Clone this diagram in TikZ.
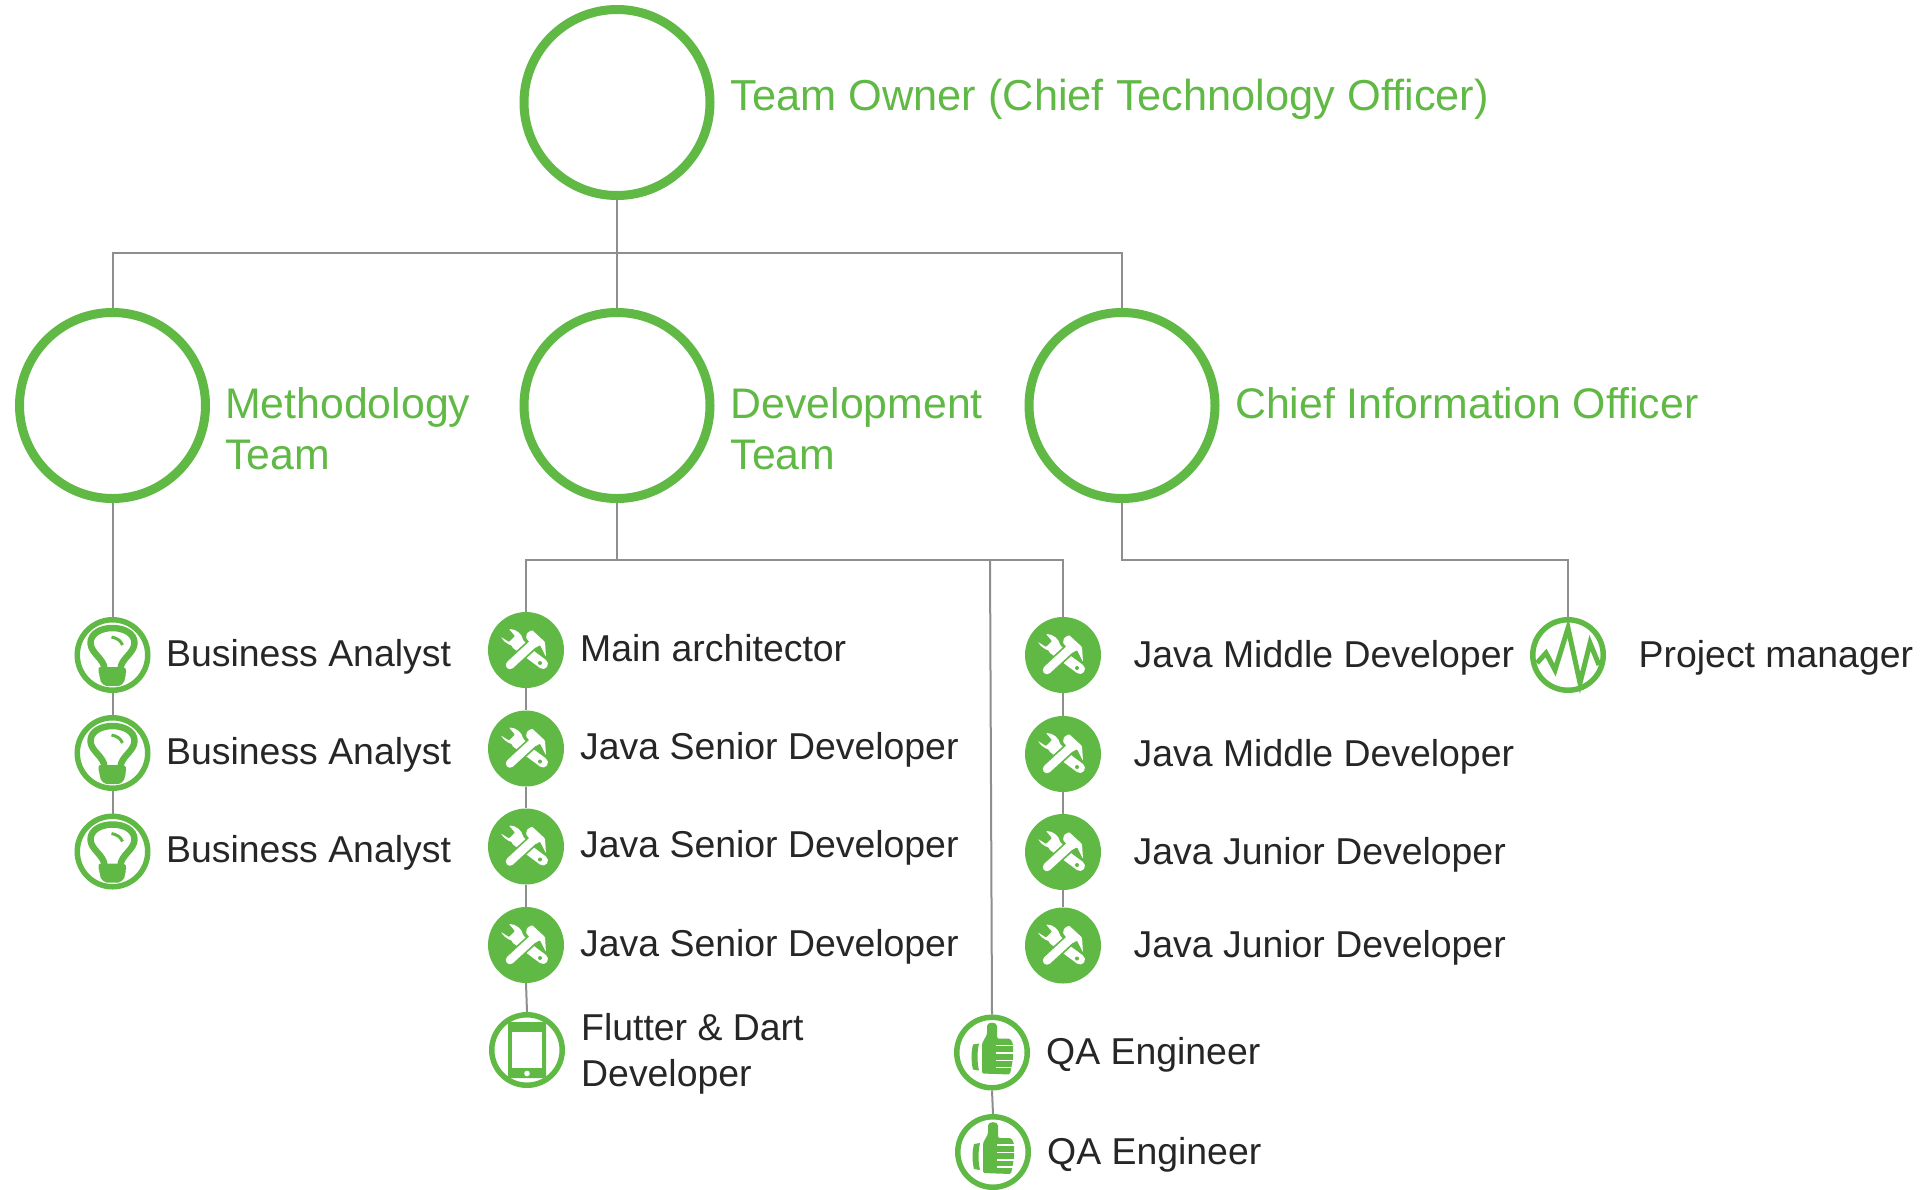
\documentclass[tikz,border=0pt]{standalone}
\usepackage{fontspec}
\setmainfont{Liberation Sans}
\definecolor{grn}{HTML}{60B945}
\definecolor{ink}{HTML}{262626}
\definecolor{wire}{HTML}{8E8E8E}
\tikzset{
  bigring/.style={circle,draw=grn,line width=9pt,minimum size=186pt,inner sep=0pt},
  ring/.style={circle,draw=grn,line width=5.5pt,minimum size=70.5pt,inner sep=0pt},
  disk/.style={circle,fill=grn,minimum size=76pt,inner sep=0pt},
  wiring/.style={draw=wire,line width=2pt},
  head/.style={text=grn,font=\fontsize{42.8}{51}\selectfont,anchor=base west,inner sep=0pt,align=left},
  lbl/.style={text=ink,font=\fontsize{37.4}{46}\selectfont,anchor=base west,inner sep=0pt,align=left},
  bulbicon/.pic={
    \draw[grn,line width=6.5pt,line join=round] (-8,14) .. controls (-8,4) and (-22,-2) .. (-22,-12)
      .. controls (-22,-22) and (-11,-27) .. (0,-27)
      .. controls (11,-27) and (22,-22) .. (22,-12)
      .. controls (22,-2) and (8,4) .. (8,14);
    \fill[grn,rounded corners=2pt] (-14,12) -- (13,12) -- (14,19) -- (12,21) -- (13,25) -- (8,31) -- (-8,31) -- (-13,25) -- (-12,21) -- (-14,19) -- cycle;
    \draw[grn,line width=3pt] (-1,-18) .. controls (4,-17) and (8,-15) .. (10,-10);
  },
  toolicon/.pic={
    \draw[white,line width=10pt,line cap=round] (-10,-6) -- (17,14);
    \fill[white,rounded corners=0.8pt] (-25,-13) .. controls (-21,-6) and (-14,-4) .. (-8,-3) -- (-2,2) -- (3,-4) -- (-3,-10)
      .. controls (-4,-16) and (-10,-21) .. (-17,-21) -- (-11,-14) -- (-17,-8) -- cycle;
    \draw[grn,line width=12pt] (-14,13) -- (7,-6);
    \draw[white,line width=8.5pt,line cap=round] (-16,15) -- (9,-8);
    \fill[white,rounded corners=1pt] (1,-17) -- (6,-20) -- (19,-8) -- (20,7) -- (14,-5) -- (9,-2) -- (0,-12) -- cycle;
    \fill[grn] (14,13) circle (2);
  },
  phoneicon/.pic={
    \fill[grn,rounded corners=2pt] (-19,-28) rectangle (19,28);
    \fill[white] (-15,-18) rectangle (15,18);
    \fill[white] (0,23.5) circle (2.8);
  },
  thumbicon/.pic={
    \fill[grn,rounded corners=1.5pt] (-10,21) -- (-10,-9) -- (-5,-18) -- (-5,-25)
      .. controls (-5,-31) and (5,-31) .. (5,-25) -- (5,-14) -- (18,-14) -- (21,-9) -- (21,6) -- (18,22) -- cycle;
    \fill[grn] (-13,-9) -- (-19,-8) .. controls (-21,0) and (-21,9) .. (-19,17) -- (-13,18) .. controls (-15,9) and (-15,0) .. (-13,-9) -- cycle;
    \foreach \yy in {-7,0.5,8,15}{\fill[white] (4,\yy-0.8) rectangle (23,\yy+0.8);}
  },
  pulseicon/.pic={
    \draw[grn,line width=5pt,miter limit=10] (-31,8) -- (-22,-2) -- (-13,15) -- (0,-27) -- (12,28) -- (22,-12) -- (31,10);
  }
}
\begin{document}
\begin{tikzpicture}[x=1pt,y=-1pt]
\useasboundingbox (0,0) rectangle (1932,1189);
% main circles
\node[bigring] (own) at (617,102.5) {};
\node[bigring] (mt) at (112.5,405.5) {};
\node[bigring] (dev) at (617,405.5) {};
\node[bigring] (cio) at (1122,405.5) {};
% business analysts
\node[ring] (ba1) at (112.5,655) {}; \pic at (ba1) {bulbicon};
\node[ring] (ba2) at (112.5,753) {}; \pic at (ba2) {bulbicon};
\node[ring] (ba3) at (112.5,851.5) {}; \pic at (ba3) {bulbicon};
% development left
\node[disk] (arch) at (526,650) {}; \pic at (arch) {toolicon};
\node[disk] (js1) at (526,748.5) {}; \pic at (js1) {toolicon};
\node[disk] (js2) at (526,846.5) {}; \pic at (js2) {toolicon};
\node[disk] (js3) at (526,945) {}; \pic at (js3) {toolicon};
\node[ring] (fl) at (527,1050) {}; \pic at (fl) {phoneicon};
% development right
\node[disk] (jm1) at (1063,655) {}; \pic at (jm1) {toolicon};
\node[disk] (jm2) at (1063,754) {}; \pic at (jm2) {toolicon};
\node[disk] (jj1) at (1063,852) {}; \pic at (jj1) {toolicon};
\node[disk] (jj2) at (1063,945.5) {}; \pic at (jj2) {toolicon};
% QA
\node[ring] (qa1) at (992,1052.5) {}; \pic at (qa1) {thumbicon};
\node[ring] (qa2) at (993,1152) {}; \pic at (qa2) {thumbicon};
% PM
\node[ring] (pm) at (1568,655) {}; \pic at (pm) {pulseicon};
% junctions
\coordinate (j1) at (617,253);
\coordinate (j2) at (617,560);
\coordinate (j3) at (990,560);
\coordinate (j4) at (1122,560);
% connectors
\draw[wiring] (own.south) -- (dev.north);
\draw[wiring] (mt.north) |- (j1) -| (cio.north);
\draw[wiring] (mt.south) -- (ba1.north);
\draw[wiring] (ba1.south) -- (ba2.north);
\draw[wiring] (ba2.south) -- (ba3.north);
\draw[wiring] (dev.south) -- (j2);
\draw[wiring] (arch.north) |- (j2) -| (jm1.north);
\draw[wiring] (j3) -- (qa1.north);
\draw[wiring] (arch.south) -- (js1.north);
\draw[wiring] (js1.south) -- (js2.north);
\draw[wiring] (js2.south) -- (js3.north);
\draw[wiring] (js3.south) -- (fl.north);
\draw[wiring] (jm1.south) -- (jm2.north);
\draw[wiring] (jm2.south) -- (jj1.north);
\draw[wiring] (jj1.south) -- (jj2.north);
\draw[wiring] (qa1.south) -- (qa2.north);
\draw[wiring] (cio.south) |- (j4) -| (pm.north);
% headings
\node[head,font=\fontsize{43.35}{51}\selectfont] (town) at (730.5,110) {Team Owner (Chief Technology Officer)};
\node[head] (tmt) at (225,469) {Methodology\\Team};
\node[head] (tdev) at (730.5,469) {Development\\Team};
\node[head] (tcio) at (1235,418) {Chief Information Officer};
% labels
\node[lbl] (l1) at (166,666) {Business Analyst};
\node[lbl] (l2) at (166,764) {Business Analyst};
\node[lbl] (l3) at (166,862) {Business Analyst};
\node[lbl] (l4) at (580,661) {Main architector};
\node[lbl] (l5) at (580,759) {Java Senior Developer};
\node[lbl] (l6) at (580,857) {Java Senior Developer};
\node[lbl] (l7) at (580,956) {Java Senior Developer};
\node[lbl] (l8) at (581,1086.5) {Flutter \& Dart\\Developer};
\node[lbl] (l9) at (1133.5,667) {Java Middle Developer};
\node[lbl] (l10) at (1133.5,766) {Java Middle Developer};
\node[lbl] (l11) at (1133.5,864) {Java Junior Developer};
\node[lbl] (l12) at (1133.5,957) {Java Junior Developer};
\node[lbl] (l13) at (1046,1064) {QA Engineer};
\node[lbl] (l14) at (1047,1164) {QA Engineer};
\node[lbl] (l15) at (1638.5,667) {Project manager};
\end{tikzpicture}
\end{document}
